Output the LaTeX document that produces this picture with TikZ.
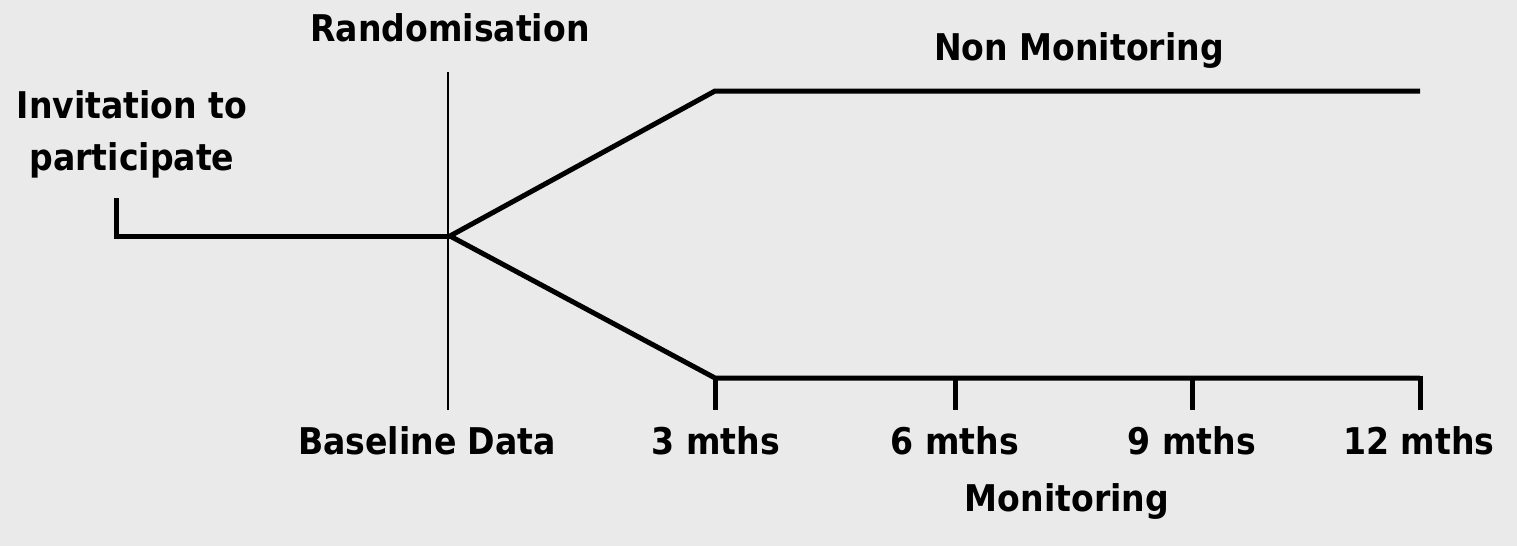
\documentclass[tikz,border=0pt]{standalone}
\usepackage{fontspec}
\setmainfont{DejaVu Sans Condensed}
\definecolor{PanelBg}{HTML}{EAEAEA}
\usetikzlibrary{backgrounds}
\usetikzlibrary{positioning}

\tikzset{
  label/.style={font=\bfseries\fontsize{18.4}{26}\selectfont, align=center, inner sep=0pt},
  arm/.style={line width=2.5pt, line cap=rect, line join=miter},
  tick/.style={line width=2.5pt}
}

\begin{document}
\begin{tikzpicture}[x=0.5pt, y=-0.5pt]
    \path [use as bounding box, fill=PanelBg] (0,0) rectangle (1517,546);

    % branch points
    \coordinate (inv) at (116,200);
    \coordinate (start) at (116,236);
    \coordinate (rand) at (450,236);
    \coordinate (upbend) at (715,91);
    \coordinate (upend) at (1420,91);
    \coordinate (lowbend) at (715,378);
    \coordinate (m6) at (955,378);
    \coordinate (m9) at (1192,378);
    \coordinate (m12) at (1420,378);
    \coordinate (randtop) at (448,72);
    \coordinate (randbot) at (448,410);

    \node[name=randlbl, label] at (450,28) {Randomisation};
    \node[name=nonmon, label] at (1079,50) {Non Monitoring};
    \node[name=invite, label] at (132,134) {Invitation to\\participate};
    \node[name=base, label] at (427,441) {Baseline Data};
    \node[name=t3, label] at (716,441) {3 mths};
    \node[name=t6, label] at (955,441) {6 mths};
    \node[name=t9, label] at (1192,441) {9 mths};
    \node[name=t12, label] at (1419,441) {12 mths};
    \node[name=mon, label] at (1067,501) {Monitoring};

    \draw[line width=1pt] (randtop) -- (randbot);

    \draw[arm] (inv) -- (start) -- (rand);
    \draw[arm, line cap=butt] (rand) -- (upbend) -- (upend);
    \draw[arm, line cap=butt] (rand) -- (lowbend) -- (m12);

    \foreach \t in {lowbend, m6, m9, m12}
      \draw[tick] ([yshift=1.25pt]\t) -- ++(0,34);
  \end{tikzpicture}
\end{document}
